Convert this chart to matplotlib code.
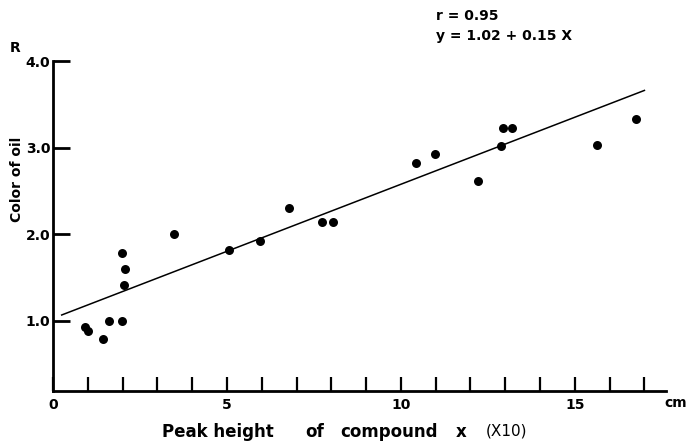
import matplotlib
matplotlib.use("Agg")
import matplotlib.pyplot as plt
import numpy as np

# peak height of compound x (x10, cm) vs colour of oil (R)
peak_height = [0.93, 1.0, 1.44, 1.6, 1.97, 1.97, 2.08, 2.05, 3.47, 5.07, 5.96,
               6.78, 7.74, 8.06, 10.43, 10.99, 12.23, 12.87, 12.93, 13.19,
               15.65, 16.75]
oil_color = [0.93, 0.88, 0.79, 1.0, 1.0, 1.79, 1.6, 1.41, 2.0, 1.82, 1.92,
             2.3, 2.14, 2.14, 2.83, 2.93, 2.62, 3.02, 3.23, 3.23, 3.03, 3.34]

fit_intercept = 1.03
fit_slope = 0.155
fit_range = [0.25, 17.0]

x_ticks = list(range(0, 18))
x_labels = ["0" if t == 0 else (str(t) if t % 5 == 0 else "") for t in x_ticks]
y_ticks = [1, 2, 3, 4]
y_labels = ["1.0", "2.0", "3.0", "4.0"]

plt.rcParams['font.family'] = ['DejaVu Sans']

fig = plt.figure(figsize=(6.92, 4.48), dpi=100)
ax = fig.add_axes([53 / 692, 1 - 391 / 448, (666 - 53) / 692, (391 - 61) / 448])

ax.scatter(peak_height, oil_color, s=42, color='black', zorder=3, linewidths=0)
xs = np.array(fit_range)
ax.plot(xs, fit_intercept + fit_slope * xs, color='black', lw=1.1)

ax.set_xlim(0, 17.62)
ax.set_ylim(0.19, 4.005)
for side in ['top', 'right']:
    ax.spines[side].set_visible(False)
for side in ['left', 'bottom']:
    ax.spines[side].set_linewidth(2)

ax.set_xticks(x_ticks)
ax.set_xticklabels(x_labels, fontweight='bold', fontsize=10)
ax.set_yticks(y_ticks)
ax.set_yticklabels(y_labels, fontweight='bold', fontsize=10)
ax.tick_params(axis='x', direction='in', length=10, width=1.6, pad=5)
ax.tick_params(axis='y', direction='in', length=12, width=2, pad=2)

ax.set_ylabel("Color of oil", fontweight='bold', fontsize=10)
ax.yaxis.set_label_coords(-0.048, 0.64)

W, H = 692, 448
fig.text(15 / W, 1 - 48 / H, "R", fontweight='bold', fontsize=10, ha='center', va='center')
fig.text(664 / W, 1 - 403 / H, "cm", fontweight='bold', fontsize=10, ha='left', va='center')
fig.text(436 / W, 1 - 16 / H, "r = 0.95", fontweight='bold', fontsize=10, ha='left', va='center')
fig.text(436 / W, 1 - 36 / H, "y = 1.02 + 0.15 X", fontweight='bold', fontsize=10, ha='left', va='center')

for px, word in [(162, "Peak height"), (305, "of"), (340, "compound"), (456, "x")]:
    fig.text(px / W, 1 - 432 / H, word, fontweight='heavy', fontsize=12, ha='left', va='center')
fig.text(486 / W, 1 - 431 / H, "(X10)", fontsize=11, ha='left', va='center')

fig.savefig("out.png", dpi=100)
